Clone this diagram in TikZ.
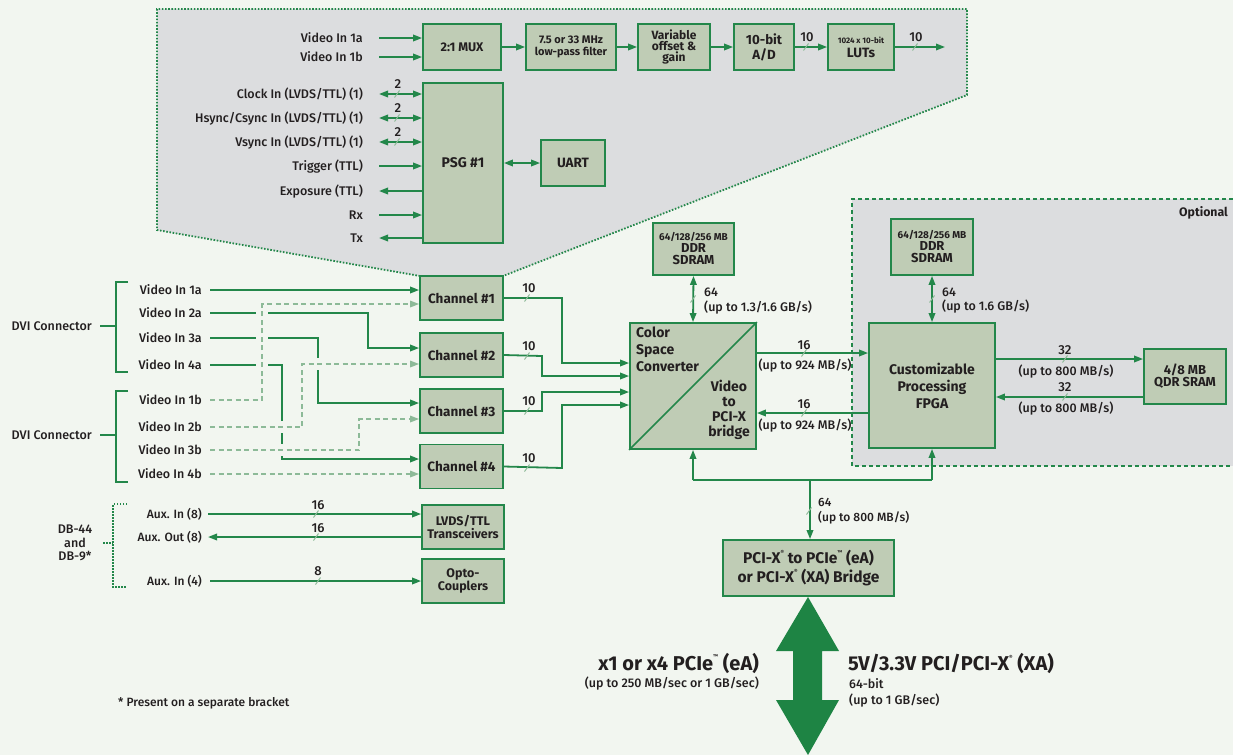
\documentclass[tikz,border=0pt]{standalone}
\usepackage{fontspec}
\setmainfont{Fira Sans}
\newfontfamily\medf{Fira Sans Medium}
\usetikzlibrary{arrows.meta,calc}
\definecolor{bgc}{HTML}{F2F6F0}
\definecolor{grayc}{HTML}{DCDDDF}
\definecolor{boxc}{HTML}{BFCCB5}
\definecolor{gc}{HTML}{23874A}
\definecolor{lgc}{HTML}{8DBA98}
\definecolor{txc}{HTML}{231F20}
\definecolor{bigc}{HTML}{1E8444}
\newcommand\fsz[2]{\fontsize{#1}{#2}\selectfont}
\newcommand\busmk[2]{\draw[slashst] (#1-2.5,#2+3.5) -- (#1+2.5,#2-3.5);}
\newcommand\sreg{\raisebox{0.55em}{\fontsize{5.5}{5.5}\selectfont ®}}
\newcommand\stm{\raisebox{0.6em}{\fontsize{5.5}{5.5}\selectfont ™}}
\begin{document}
\begin{tikzpicture}[x=1pt,y=-1pt,
  every node/.style={text=txc, inner sep=0pt},
  box/.style={draw=gc, fill=boxc, line width=1.8pt, align=center, font=\bfseries\fsz{13}{13}},
  lab/.style={anchor=east, font=\medf\fsz{12.5}{14}, text height=8.8pt, text depth=0pt},
  ln/.style={gc, line width=1.8pt},
  ar/.style={ln, -{Triangle[length=9pt,width=6.5pt]}},
  arb/.style={ln, {Triangle[length=9pt,width=6.5pt]}-{Triangle[length=9pt,width=6.5pt]}},
  dl/.style={lgc, line width=1.6pt, dash pattern=on 5pt off 3.5pt, -{Triangle[length=9pt,width=6.5pt]}, preaction={draw=bgc, line width=12pt, solid, -}},
  slashst/.style={lgc, line width=1pt},
  num/.style={font=\medf\fsz{13}{13}},
  small/.style={font=\medf\fsz{12.5}{14}, anchor=west, align=left},
  rate/.style={font=\medf\fsz{12.5}{14}},
]
\fill[bgc] (0,0) rectangle (1233,755);
\useasboundingbox (0,0) rectangle (1233,755);

% ---------- gray regions ----------
\fill[grayc] (157,9) -- (967,9) -- (967,95) -- (503,276) -- (420,276) -- (157,230) -- cycle;
\draw[gc, line width=1.8pt, dash pattern=on 1.6pt off 1.6pt] (420,276) -- (157,230) -- (157,9) -- (967,9) -- (967,95) -- (503,276);
\fill[grayc] (852,199) rectangle (1240,466);
\draw[gc, line width=1.3pt, dash pattern=on 4pt off 3pt] (1240,199) -- (852,199) -- (852,466) -- (1240,466);
\node[anchor=east, font=\bfseries\fsz{12.3}{13}] (optl) at (1228,213) {Optional};

% ---------- boxes ----------
\node[box, minimum width=78, minimum height=46, font=\bfseries\fsz{12.5}{13}] (mux) at (462,47) {2:1 MUX};
\node[box, minimum width=90, minimum height=46, font=\bfseries\fsz{11}{12}] (lpf) at (571,47) {7.5 or 33 MHz\\low-pass filter};
\node[box, minimum width=72, minimum height=46, font=\bfseries\fsz{12}{11}] (vog) at (674,47) {Variable\\offset \&\\gain};
\node[box, minimum width=60, minimum height=46, font=\bfseries\fsz{13.3}{15}] (ad) at (764,47) {10-bit\\A/D};
\node[box, minimum width=66, minimum height=46, font=\bfseries\fsz{13.5}{14}] (lut) at (861,47) {{\fsz{8}{9}1024 x 10-bit}\\LUTs};
\node[box, minimum width=80, minimum height=160, font=\bfseries\fsz{14}{14}] (psg) at (463,163) {PSG \#1};
\node[box, minimum width=64, minimum height=46, font=\bfseries\fsz{13.5}{14}] (uart) at (573,163) {UART};

% ---------- top signals ----------
\node[lab] (tv1a) at (363,38) {Video In 1a};
\node[lab] (tv1b) at (363,57) {Video In 1b};
\node[lab] (clk) at (363,94) {Clock In (LVDS/TTL) (1)};
\node[lab] (hs) at (363,118) {Hsync/Csync In (LVDS/TTL) (1)};
\node[lab] (vs) at (363,142) {Vsync In (LVDS/TTL) (1)};
\node[lab] (trg) at (363,166) {Trigger (TTL)};
\node[lab] (exp) at (363,191) {Exposure (TTL)};
\node[lab] (rx) at (363,215) {Rx};
\node[lab] (tx) at (363,238) {Tx};
\draw[ar] ($(tv1a.east)+(16,0)$) -- (tv1a.east -| mux.west);
\draw[ar] ($(tv1b.east)+(16,0)$) -- (tv1b.east -| mux.west);
\draw[arb] ($(clk.east)+(16,0)$) -- (clk.east -| psg.west);
\draw[arb] ($(hs.east)+(16,0)$) -- (hs.east -| psg.west);
\draw[arb] ($(vs.east)+(16,0)$) -- (vs.east -| psg.west);
\draw[ar] ($(trg.east)+(16,0)$) -- (trg.east -| psg.west);
\draw[ar] (exp.east -| psg.west) -- ($(exp.east)+(16,0)$);
\draw[ar] ($(rx.east)+(16,0)$) -- (rx.east -| psg.west);
\draw[ar] (tx.east -| psg.west) -- ($(tx.east)+(16,0)$);
\busmk{397}{94}\busmk{397}{118}\busmk{397}{142}
\node[num] at (398,84) {2};
\node[num] at (398,108) {2};
\node[num] at (398,132) {2};
\draw[arb] (psg.east |- uart.west) -- (uart.west);

\draw[ar] (mux) -- (lpf);
\draw[ar] (lpf) -- (vog);
\draw[ar] (vog) -- (ad);
\draw[ar] (ad) -- (lut);
\coordinate (lutout) at (945,47);
\draw[ar] (lut) -- (lutout);
\busmk{806}{47}\node[num] at (807,37) {10};
\busmk{915}{47}\node[num] at (916,37) {10};

% ---------- DVI inputs ----------
\node[lab] (v1a) at (202,290) {Video In 1a};
\node[lab] (v2a) at (202,313) {Video In 2a};
\node[lab] (v3a) at (202,338) {Video In 3a};
\node[lab] (v4a) at (202,365) {Video In 4a};
\node[lab] (v1b) at (202,400) {Video In 1b};
\node[lab] (v2b) at (202,427) {Video In 2b};
\node[lab] (v3b) at (202,450) {Video In 3b};
\node[lab] (v4b) at (202,474) {Video In 4b};

\node[box, minimum width=83, minimum height=44, font=\bfseries\fsz{13.5}{14}] (ch1) at (461.5,298) {Channel \#1};
\node[box, minimum width=83, minimum height=44, font=\bfseries\fsz{13.5}{14}] (ch2) at (461.5,355) {Channel \#2};
\node[box, minimum width=83, minimum height=44, font=\bfseries\fsz{13.5}{14}] (ch3) at (461.5,411) {Channel \#3};
\node[box, minimum width=83, minimum height=44, font=\bfseries\fsz{13.5}{14}] (ch4) at (461.5,466.5) {Channel \#4};

\draw[ar] ($(v1a.east)+(8,0)$) -- (v1a.east -| ch1.west);
\draw[ar] ($(v2a.east)+(8,0)$) -- (368,313) -- (368,348) -- (ch2.west |- 0,348);
\draw[ar] ($(v3a.east)+(8,0)$) -- (318,338) -- (318,403) -- (ch3.west |- 0,403);
\draw[ar] ($(v4a.east)+(8,0)$) -- (282,365) -- (282,459) -- (ch4.west |- 0,459);
\draw[dl] ($(v1b.east)+(8,0)$) -- (262,400) -- (262,304) -- (ch1.west |- 0,304);
\draw[dl] ($(v2b.east)+(8,0)$) -- (302,427) -- (302,364) -- (ch2.west |- 0,364);
\draw[dl] ($(v3b.east)+(8,0)$) -- (359,450) -- (359,419) -- (ch3.west |- 0,419);
\draw[dl] ($(v4b.east)+(8,0)$) -- (v4b.east -| ch4.west);

% DVI brackets
\draw[ln] (128,282) -- (116,282) -- (116,372) -- (128,372);
\draw[ln] (100,326) -- (116,326);
\draw[ln] (128,391) -- (116,391) -- (116,482) -- (128,482);
\draw[ln] (100,435) -- (116,435);
\node[lab] (dvi1) at (92,326) {DVI Connector};
\node[lab] (dvi2) at (92,435) {DVI Connector};

% ---------- CSC ----------
\node[box, minimum width=126, minimum height=126] (csc) at (693,386) {};
\draw[gc, line width=1.5pt] (csc.south west) -- (csc.north east);
\node[anchor=north west, align=left, font=\bfseries\fsz{14}{17}] (csct) at (636,327) {Color\\Space\\Converter};
\node[anchor=south, align=center, font=\bfseries\fsz{14}{15}] (vbt) at (729,440) {Video\\to\\PCI-X\\bridge};

\draw[ar] (ch1.east) -- (562,298) -- (562,363) -- (csc.west |- 0,363);
\draw[ar] (ch2.east) -- (542,356) -- (542,376) -- (csc.west |- 0,376);
\draw[ar] (ch3.east) -- (542,411) -- (542,392) -- (csc.west |- 0,392);
\draw[ar] (ch4.east) -- (562,468) -- (562,405) -- (csc.west |- 0,405);
\busmk{527}{298}\node[num] at (529,288) {10};
\busmk{527}{356}\node[num] at (529,346) {10};
\busmk{527}{411}\node[num] at (529,401) {10};
\busmk{527}{468}\node[num] at (529,458) {10};

% ---------- memories ----------
\node[box, minimum width=81, minimum height=52, font=\bfseries\fsz{13}{12}] (ddr1) at (693.5,249) {{\fsz{10}{10}64/128/256 MB}\\DDR\\SDRAM};
\draw[arb] (ddr1.south) -- (csc.north);
\busmk{693}{299}
\node[small] (l64a) at (704,292) {64};
\node[small] (l64b) at (704,308) {(up to 1.3/1.6 GB/s)};

\node[box, minimum width=126, minimum height=125, font=\bfseries\fsz{14}{17}] (fpga) at (932,385.5) {Customizable\\Processing\\FPGA};
\node[box, minimum width=82, minimum height=56, font=\bfseries\fsz{13}{12}] (ddr2) at (932,247) {{\fsz{10}{10}64/128/256 MB}\\DDR\\SDRAM};
\draw[arb] (ddr2.south) -- (fpga.north);
\busmk{932}{299}
\node[small] (l64c) at (942,292) {64};
\node[small] (l64d) at (942,307) {(up to 1.6 GB/s)};

\node[box, minimum width=82, minimum height=55, font=\bfseries\fsz{13}{12}] (qdr) at (1185,376.5) {4/8 MB\\QDR SRAM};

\draw[ar] (csc.east |- 0,353) -- (fpga.west |- 0,353);
\draw[ar] (fpga.west |- 0,413) -- (csc.east |- 0,413);
\busmk{804}{353}\node[num] at (804,345) {16};
\node[rate] at (805,366) {(up to 924 MB/s)};
\busmk{804}{413}\node[num] at (804,404) {16};
\node[rate] at (805,426) {(up to 924 MB/s)};

\draw[ar] (fpga.east |- 0,359) -- (qdr.west |- 0,359);
\draw[ar] (qdr.west |- 0,397) -- (fpga.east |- 0,397);
\busmk{1065}{359}\node[num] at (1065,350) {32};
\node[rate] at (1066,372) {(up to 800 MB/s)};
\busmk{1065}{397}\node[num] at (1065,387) {32};
\node[rate] at (1066,409) {(up to 800 MB/s)};

% ---------- bus & bridge ----------
\node[box, minimum width=171, minimum height=56, font=\bfseries\fsz{15.5}{19}] (bridge) at (808.5,568) {PCI-X\sreg{} to PCIe\stm{} (eA)\\or PCI-X\sreg{} (XA) Bridge};
\coordinate (busL) at (csc.south |- 0,480);
\coordinate (busR) at (fpga.south |- 0,480);
\coordinate (busM) at (810,480);
\draw[ln] (busL) -- (busR);
\draw[ar] (busL) -- (csc.south);
\draw[ar] (busR) -- (fpga.south);
\draw[ar] (busM) -- (busM |- bridge.north);
\busmk{809}{511}
\node[small, font=\medf\fsz{12}{13}] (l64e) at (818,502) {64};
\node[small, font=\medf\fsz{12}{13}] (l64f) at (818,518) {(up to 800 MB/s)};

% big double arrow
\fill[bigc] (808,597) -- (839,651) -- (822,651) -- (822,700) -- (839,700) -- (808,755) -- (776,700) -- (793,700) -- (793,651) -- (776,651) -- cycle;
\node[anchor=east, font=\bfseries\fsz{20}{22}] (pcie) at (759,663) {x1 or x4 PCIe\stm{} (eA)};
\node[anchor=east, font=\medf\fsz{12.5}{14}] (pcies) at (759,684) {(up to 250 MB/sec or 1 GB/sec)};
\node[anchor=west, font=\bfseries\fsz{20}{22}] (pcix) at (848,663) {5V/3.3V PCI/PCI-X\sreg{} (XA)};
\node[anchor=west, align=left, font=\medf\fsz{12.5}{16}] (pcixs) at (849,693) {64-bit\\(up to 1 GB/sec)};

% ---------- aux ----------
\node[box, minimum width=82, minimum height=44, font=\bfseries\fsz{12.5}{11.5}] (lvds) at (463,527) {LVDS/TTL\\Transceivers};
\node[box, minimum width=82, minimum height=44, font=\bfseries\fsz{12.5}{11.5}] (opto) at (463,581) {Opto-\\Couplers};
\node[lab, font=\medf\fsz{12}{13}] (ai8) at (202,514) {Aux. In (8)};
\node[lab, font=\medf\fsz{12}{13}] (ao8) at (202,537) {Aux. Out (8)};
\node[lab, font=\medf\fsz{12}{13}] (ai4) at (202,581) {Aux. In (4)};
\draw[ar] ($(ai8.east)+(6,0)$) -- (ai8.east -| lvds.west);
\draw[ar] (ao8.east -| lvds.west) -- ($(ao8.east)+(6,0)$);
\draw[ar] ($(ai4.east)+(8,0)$) -- (opto.west);
\busmk{316}{514}\node[num] at (318,505) {16};
\busmk{316}{537}\node[num] at (318,528) {16};
\busmk{318}{581}\node[num] at (318,571) {8};
\draw[gc, line width=1.6pt, dash pattern=on 1.5pt off 1.5pt] (127,504) -- (113,504) -- (113,587) -- (127,587);
\draw[gc, line width=1.6pt, dash pattern=on 1.5pt off 1.5pt] (103,543) -- (113,543);
\node[align=center, font=\medf\fsz{12.5}{13.5}] (db) at (75,543) {DB-44\\and\\DB-9*};
\node[anchor=west, font=\medf\fsz{12}{13}] (foot) at (118,703) {* Present on a separate bracket};
\end{tikzpicture}
\end{document}
